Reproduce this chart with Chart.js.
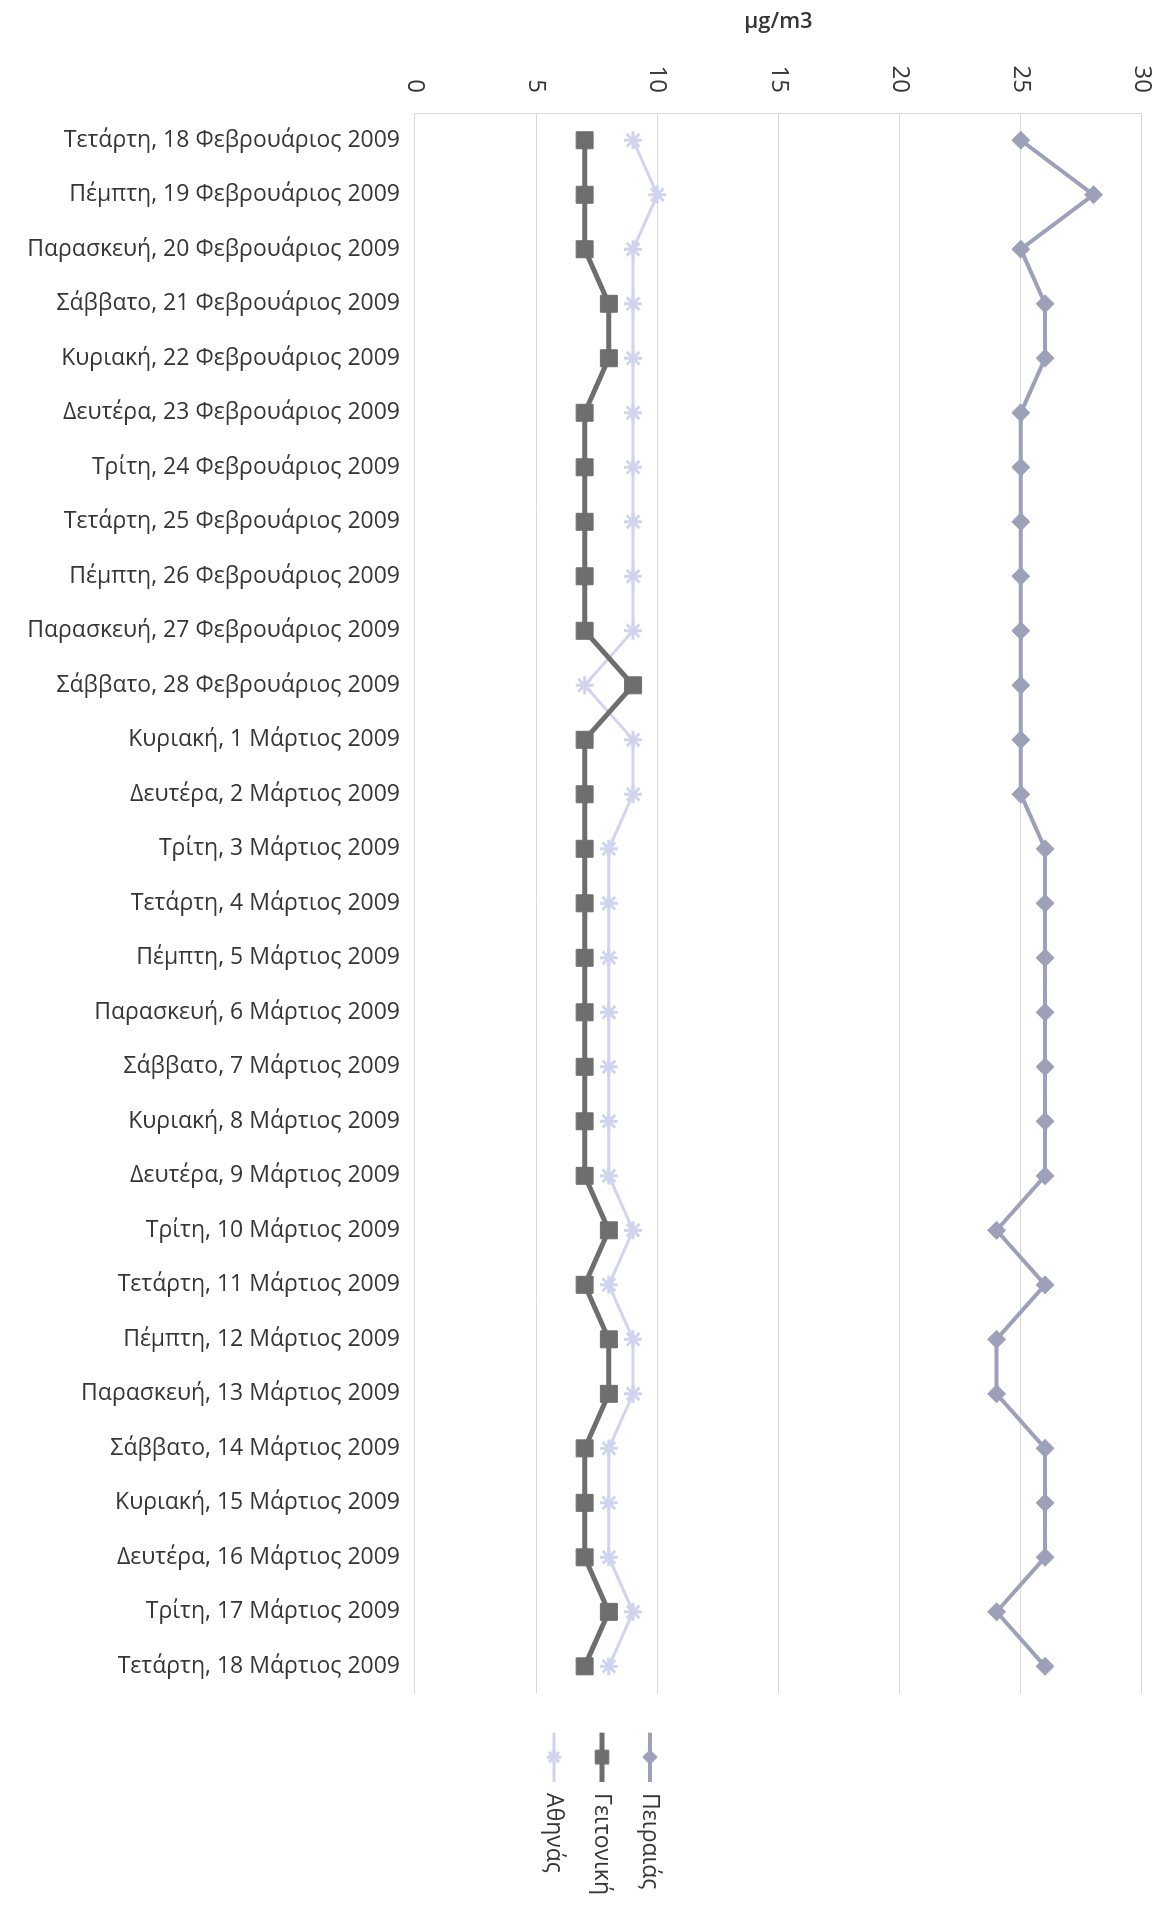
<!DOCTYPE html>
<html lang="el">
<head>
<meta charset="UTF-8">
<title>µg/m3</title>
<script src="https://cdn.jsdelivr.net/npm/chart.js"></script>
<style>
  html, body { margin: 0; padding: 0; width: 1164px; height: 1905px; overflow: hidden; background: #fff; }
  /* the chart was laid out landscape and then turned a quarter clockwise */
  #wrap { position: absolute; left: 0; top: 0; width: 1905px; height: 1164px;
          transform-origin: 0 0; transform: translate(1164px, 0) rotate(90deg); }
</style>
</head>
<body>
<div id="wrap"><canvas id="chart" width="1905" height="1164"></canvas></div>
<script>
const days = [
  'Τετάρτη, 18 Φεβρουάριος 2009', 'Πέμπτη, 19 Φεβρουάριος 2009', 'Παρασκευή, 20 Φεβρουάριος 2009',
  'Σάββατο, 21 Φεβρουάριος 2009', 'Κυριακή, 22 Φεβρουάριος 2009', 'Δευτέρα, 23 Φεβρουάριος 2009',
  'Τρίτη, 24 Φεβρουάριος 2009', 'Τετάρτη, 25 Φεβρουάριος 2009', 'Πέμπτη, 26 Φεβρουάριος 2009',
  'Παρασκευή, 27 Φεβρουάριος 2009', 'Σάββατο, 28 Φεβρουάριος 2009', 'Κυριακή, 1 Μάρτιος 2009',
  'Δευτέρα, 2 Μάρτιος 2009', 'Τρίτη, 3 Μάρτιος 2009', 'Τετάρτη, 4 Μάρτιος 2009',
  'Πέμπτη, 5 Μάρτιος 2009', 'Παρασκευή, 6 Μάρτιος 2009', 'Σάββατο, 7 Μάρτιος 2009',
  'Κυριακή, 8 Μάρτιος 2009', 'Δευτέρα, 9 Μάρτιος 2009', 'Τρίτη, 10 Μάρτιος 2009',
  'Τετάρτη, 11 Μάρτιος 2009', 'Πέμπτη, 12 Μάρτιος 2009', 'Παρασκευή, 13 Μάρτιος 2009',
  'Σάββατο, 14 Μάρτιος 2009', 'Κυριακή, 15 Μάρτιος 2009', 'Δευτέρα, 16 Μάρτιος 2009',
  'Τρίτη, 17 Μάρτιος 2009', 'Τετάρτη, 18 Μάρτιος 2009'
];
const piraeus   = [25, 28, 25, 26, 26, 25, 25, 25, 25, 25, 25, 25, 25, 26, 26, 26, 26, 26, 26, 26, 24, 26, 24, 24, 26, 26, 26, 24, 26];
const geitoniki = [7, 7, 7, 8, 8, 7, 7, 7, 7, 7, 9, 7, 7, 7, 7, 7, 7, 7, 7, 7, 8, 7, 8, 8, 7, 7, 7, 8, 7];
const athinas   = [9, 10, 9, 9, 9, 9, 9, 9, 9, 9, 7, 9, 9, 8, 8, 8, 8, 8, 8, 8, 9, 8, 9, 9, 8, 8, 8, 9, 8];
const valueTicks = [0, 5, 10, 15, 20, 25, 30];
const unitLabel = 'µg/m3';

const textColor = '#363636';
const font = '"Open Sans", "Noto Sans", sans-serif';

const series = [
  { label: 'Πειραιάς', data: piraeus, color: '#9ca1b9', width: 4, style: 'rectRot', radius: 9, pbw: 1 },
  { label: 'Γειτονική', data: geitoniki, color: '#6e6e6e', width: 5, style: 'rect', radius: 12, pbw: 1 },
  { label: 'Αθηνάς', data: athinas, color: '#d0d4ee', width: 3, style: 'star', radius: 9, pbw: 3 }
];

// legend swatch: short line with the series marker on it
function swatch(s) {
  const c = document.createElement('canvas');
  c.width = 63; c.height = 26;
  const g = c.getContext('2d');
  g.strokeStyle = s.color; g.fillStyle = s.color; g.lineWidth = s.width;
  g.beginPath(); g.moveTo(14, 13); g.lineTo(63, 13); g.stroke();
  g.lineWidth = s.pbw;
  Chart.helpers.drawPoint(g, { pointStyle: s.style, radius: s.radius * 0.8, rotation: 0, borderWidth: s.pbw }, 38.5, 13);
  return c;
}
const swatches = series.map(swatch);

// the category labels are clipped to their scale box; let it reach the canvas edge
const labelRoom = {
  id: 'labelRoom',
  afterLayout(chart) { chart.scales.x.bottom = chart.height; }
};

new Chart(document.getElementById('chart'), {
  type: 'line',
  data: {
    labels: days,
    datasets: series.map(s => ({
      label: s.label,
      data: s.data,
      borderColor: s.color,
      backgroundColor: s.color,
      borderWidth: s.width,
      pointStyle: s.style,
      pointRadius: s.radius,
      pointBorderWidth: s.pbw,
      pointBackgroundColor: s.color,
      pointBorderColor: s.color,
      tension: 0
    }))
  },
  plugins: [labelRoom],
  options: {
    responsive: false,
    animation: false,
    devicePixelRatio: 1,
    layout: { padding: { top: 22, bottom: 62, left: 0, right: 0 } },
    plugins: {
      tooltip: { enabled: false },
      legend: {
        position: 'right',
        labels: {
          usePointStyle: true,
          pointStyleWidth: 63,
          padding: 25,
          color: textColor,
          font: { family: font, size: 23 },
          generateLabels(chart) {
            const items = Chart.defaults.plugins.legend.labels.generateLabels(chart);
            items.forEach(it => { it.pointStyle = swatches[it.datasetIndex]; });
            return items;
          }
        }
      }
    },
    scales: {
      x: {
        offset: true,
        grid: { display: false },
        border: { display: false },
        ticks: {
          autoSkip: false, minRotation: 90, maxRotation: 90, padding: 7,
          color: textColor, font: { family: font, size: 23 }
        },
        afterFit(scale) { scale.height = 353; }
      },
      y: {
        min: 0, max: 30,
        afterBuildTicks(scale) { scale.ticks = valueTicks.map(v => ({ value: v })); },
        grid: { color: '#d9d9d9', lineWidth: 1, tickLength: 13, tickColor: 'rgba(0,0,0,0)' },
        border: { display: true, color: '#d9d9d9' },
        ticks: { padding: 7, color: textColor, font: { family: font, size: 24 } },
        title: {
          display: true, text: unitLabel, color: textColor,
          font: { family: font, size: 22, weight: '600' }, padding: { top: 9, bottom: 0 }
        },
        afterFit(scale) { scale.width = 113; }
      }
    }
  }
});
</script>
</body>
</html>
